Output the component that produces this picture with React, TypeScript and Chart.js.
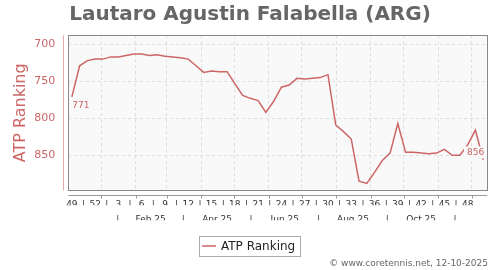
import React, { useEffect, useRef } from 'react';
import { Chart, registerables } from 'chart.js';

Chart.register(...registerables);

// ---- data ----
const TITLE = 'Lautaro Agustin Falabella (ARG)';
const SERIES_LABEL = 'ATP Ranking';
const CREDIT = '\u00A9 www.coretennis.net, 12-10-2025';

// ISO week numbers of the weekly points (week 49 of 2024 .. week 50 of 2025)
const weekNumbers = [
  49, 50, 51, 52,
  1, 2, 3, 4, 5, 6, 7, 8, 9, 10, 11, 12, 13, 14, 15, 16, 17, 18, 19, 20,
  21, 22, 23, 24, 25, 26, 27, 28, 29, 30, 31, 32, 33, 34, 35, 36, 37, 38, 39, 40,
  41, 42, 43, 44, 45, 46, 47, 48, 49, 50,
];

const rankings = [
  771, 729, 722, 720, 720, 717, 717, 715, 713, 713,
  715, 714, 716, 717, 718, 720, 729, 738, 736, 737,
  737, 753, 769, 773, 776, 792, 777, 758, 755, 746,
  747, 746, 745, 741, 809, 818, 828, 885, 888, 873,
  857, 847, 807, 846, 846, 847, 848, 847, 842, 850,
  850, 836, 816, 856,
];

const yTicks = [700, 750, 800, 850];
const monthLabels = ['Feb 25', 'Apr 25', 'Jun 25', 'Aug 25', 'Oct 25'];
// months (0-based, 2025) whose middle separates the two-month label bands
const bandStartMonths = [0, 2, 4, 6, 8, 10];
const gridMonths = [0, 1, 2, 3, 4, 5, 6, 7, 8, 9, 10, 11];

// ---- helpers (date -> week index axis) ----
const START = Date.UTC(2024, 11, 2); // Monday of ISO week 49, 2024
const DAY = 86400000;
const weekPos = (t: number) => ((t - START) / DAY - 3.5) / 7;

const gridPositions = gridMonths.map((m) => weekPos(Date.UTC(2025, m, 1)));
const bandSeps = bandStartMonths.map((m) => weekPos(Date.UTC(2025, m, 16)));
const monthTicks: { value: number; label: string }[] = [];
bandSeps.forEach((p, i) => {
  monthTicks.push({ value: p, label: '|' });
  if (i < bandSeps.length - 1 && monthLabels[i]) {
    monthTicks.push({ value: (p + bandSeps[i + 1]) / 2, label: monthLabels[i] });
  }
});
const weekTicks: { value: number; label: string }[] = [];
for (let i = 0; i < weekNumbers.length; i += 3) {
  weekTicks.push({ value: i, label: String(weekNumbers[i]) });
  if (i + 3 < weekNumbers.length) weekTicks.push({ value: i + 1.5, label: '|' });
}

const RED = '#cc6666';
const FONT = "'DejaVu Sans', sans-serif";

const X_MIN = -0.46;
const X_MAX = 53.53;

const decor = {
  id: 'decor',
  beforeDraw(chart: any) {
    const { ctx, chartArea: a } = chart;
    ctx.save();
    ctx.fillStyle = '#f9f9f9';
    ctx.fillRect(a.left, a.top, a.right - a.left, a.bottom - a.top);
    ctx.restore();
  },
  afterDatasetsDraw(chart: any) {
    const { ctx } = chart;
    const meta = chart.getDatasetMeta(0);
    const pts = meta.data;
    if (!pts.length) return;
    ctx.save();
    ctx.font = `9px ${FONT}`;
    ctx.fillStyle = RED;
    // first value label
    const p0 = pts[0];
    ctx.textAlign = 'left';
    ctx.textBaseline = 'middle';
    ctx.fillText(String(rankings[0]), p0.x + 0.5, p0.y + 9);
    // last value label with background
    const pl = pts[pts.length - 1];
    const txt = String(rankings[rankings.length - 1]);
    const w = ctx.measureText(txt).width;
    const tx = pl.x + 1;
    const ty = pl.y - 7.3;
    ctx.fillStyle = '#f9f9f9';
    ctx.fillRect(tx - w - 3, ty - 6, w + 4, 12);
    ctx.fillStyle = RED;
    ctx.textAlign = 'right';
    ctx.fillText(txt, tx, ty);
    ctx.restore();
  },
  afterDraw(chart: any) {
    const { ctx, chartArea: a } = chart;
    ctx.save();
    // plot border
    ctx.strokeStyle = '#888888';
    ctx.lineWidth = 1;
    ctx.strokeRect(Math.round(a.left) + 0.5, Math.round(a.top) + 0.5, Math.round(a.right - a.left), Math.round(a.bottom - a.top));
    // y axis line (offset)
    ctx.strokeStyle = 'rgba(204,102,102,0.55)';
    ctx.beginPath();
    const yx = Math.round(a.left - 5) + 0.5;
    ctx.moveTo(yx, a.top);
    ctx.lineTo(yx, a.bottom);
    ctx.stroke();
    // x axis line (offset) with small ticks
    ctx.strokeStyle = '#999999';
    const xy = Math.round(a.bottom + 5) + 0.5;
    ctx.beginPath();
    ctx.moveTo(a.left, xy);
    ctx.lineTo(a.right, xy);
    const sx = chart.scales.x;
    gridPositions.forEach((g) => {
      const px = Math.round(sx.getPixelForValue(g)) + 0.5;
      ctx.moveTo(px, xy);
      ctx.lineTo(px, xy + 3);
    });
    ctx.stroke();
    // title
    ctx.fillStyle = '#666666';
    ctx.font = `bold 20px ${FONT}`;
    ctx.textAlign = 'center';
    ctx.textBaseline = 'alphabetic';
    ctx.fillText(TITLE, 250, 19.5);
    // legend
    ctx.strokeStyle = '#aaaaaa';
    ctx.lineWidth = 1;
    ctx.strokeRect(199.5, 236.5, 101, 20);
    ctx.strokeStyle = RED;
    ctx.lineWidth = 1.5;
    ctx.beginPath();
    ctx.moveTo(202, 246);
    ctx.lineTo(216, 246);
    ctx.stroke();
    ctx.fillStyle = '#222222';
    ctx.font = `12px ${FONT}`;
    ctx.textAlign = 'left';
    ctx.textBaseline = 'middle';
    ctx.fillText(chart.data.datasets[0].label, 221, 246.5);
    // credit
    ctx.fillStyle = '#666666';
    ctx.font = `9px ${FONT}`;
    ctx.textAlign = 'right';
    ctx.fillText(CREDIT, 488, 263.5);
    ctx.restore();
  },
};

export default function App() {
  const ref = useRef<HTMLCanvasElement | null>(null);
  useEffect(() => {
    if (!ref.current) return;
    const chart = new Chart(ref.current, {
      type: 'line',
      data: {
        datasets: [
          {
            label: SERIES_LABEL,
            data: rankings.map((v, i) => ({ x: i, y: v })),
            borderColor: RED,
            backgroundColor: RED,
            borderWidth: 1.5,
            pointRadius: 0,
            tension: 0,
            fill: false,
          },
        ],
      },
      options: {
        responsive: false,
        animation: false,
        devicePixelRatio: 1,
        layout: { padding: { top: 35.3, right: 12.7, left: 0, bottom: 49.7 } },
        plugins: { legend: { display: false }, title: { display: false }, tooltip: { enabled: false } },
        scales: {
          x: {
            type: 'linear',
            position: 'bottom',
            weight: 0,
            min: X_MIN,
            max: X_MAX,
            bounds: 'data',
            ticks: { display: false },
            grid: { display: true, color: '#dddddd', drawTicks: false, lineWidth: 1 },
            border: { display: false, dash: [3, 3] },
            afterBuildTicks: (s: any) => {
              s.ticks = gridPositions.map((v) => ({ value: v }));
            },
            afterFit: (s: any) => {
              s.height = 0;
            },
          },
          xw: {
            type: 'linear',
            position: 'bottom',
            weight: 1,
            min: X_MIN,
            max: X_MAX,
            bounds: 'data',
            grid: { display: false, drawTicks: false },
            border: { display: false },
            ticks: {
              autoSkip: false,
              maxRotation: 0,
              padding: 9.3,
              color: '#333333',
              font: { family: FONT, size: 9 },
              callback: (v: any, i: number) => weekTicks[i]?.label ?? '',
            },
            afterBuildTicks: (s: any) => {
              s.ticks = weekTicks.map((t) => ({ value: t.value }));
            },
            afterFit: (s: any) => {
              s.height = 15;
            },
          },
          xm: {
            type: 'linear',
            position: 'bottom',
            weight: 2,
            min: X_MIN,
            max: X_MAX,
            bounds: 'data',
            grid: { display: false, drawTicks: false },
            border: { display: false },
            ticks: {
              autoSkip: false,
              maxRotation: 0,
              padding: 9.3,
              color: '#333333',
              font: { family: FONT, size: 9 },
              callback: (v: any, i: number) => monthTicks[i]?.label ?? '',
            },
            afterBuildTicks: (s: any) => {
              s.ticks = monthTicks.map((t) => ({ value: t.value }));
            },
            afterFit: (s: any) => {
              s.height = 15;
            },
          },
          y: {
            type: 'linear',
            reverse: true,
            min: 687.8,
            max: 897.3,
            bounds: 'data',
            grid: { color: '#dddddd', drawTicks: false },
            border: { display: false, dash: [3, 3] },
            ticks: {
              padding: 13,
              color: RED,
              font: { family: FONT, size: 11 },
              callback: (v: any) => String(v),
            },
            afterBuildTicks: (s: any) => {
              s.ticks = yTicks.map((v) => ({ value: v }));
            },
            title: {
              display: true,
              text: SERIES_LABEL,
              color: RED,
              font: { family: FONT, size: 16 },
              padding: { top: 11, bottom: 0 },
            },
            afterFit: (s: any) => {
              s.width = 68.3;
            },
          },
        },
      },
      plugins: [decor],
    } as any);
    return () => chart.destroy();
  }, []);
  return (
    <div style={{ position: 'absolute', left: 0, top: 0, width: 500, height: 270, background: '#fff' }}>
      <canvas ref={ref} width={500} height={270} />
    </div>
  );
}
